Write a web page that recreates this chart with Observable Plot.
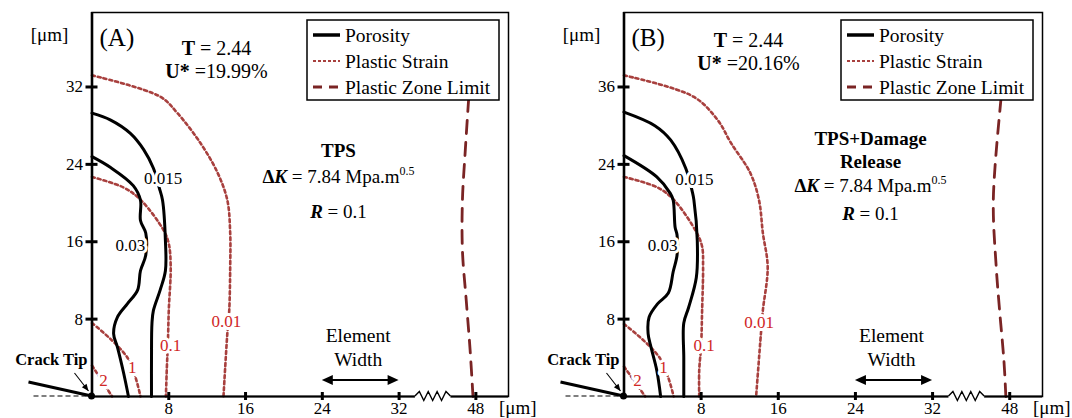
<!DOCTYPE html>
<html><head><meta charset="utf-8">
<script src="https://cdn.jsdelivr.net/npm/d3@7"></script>
<script src="https://cdn.jsdelivr.net/npm/@observablehq/plot@0.6"></script>
<style>
body{margin:0;background:#fff}
#row{display:flex;width:1072px;height:418px;overflow:hidden}
#row svg{overflow:visible}
</style>
</head><body><div id="row"></div>
<script>
// ---------- data ----------
const xTicks = [8, 16, 24, 32, 48];              // µm (axis broken between 32 and 48)
const yTicks = [8, 16, 24, 32];
const yTickLabelsA = ["8", "16", "24", "32"];
const yTickLabelsB = ["8", "16", "24", "36"];
const elementWidth = [24, 32];

// Panel A contours [x µm, y µm]
const A_por015 = [[0,29.3],[1.9,28.6],[4.0,27.2],[5.4,25.5],[6.4,23.6],[7.0,21.6],[7.35,20.3],[7.65,16.1],[7.65,13.0],[7.1,11.0],[6.4,8.9],[6.25,7.6],[6.2,4],[6.2,0]];
const A_por03  = [[0,24.8],[1.9,23.7],[4.3,21.8],[5.05,20.3],[5.05,18.2],[5.6,16.9],[5.6,14.6],[5.05,13.0],[4.75,11.0],[3.7,9.6],[2.65,8.2],[2.25,6.5],[2.65,5.1],[3.3,2.4],[3.8,0]];
const A_ps001  = [[0,33.2],[7.1,31.0],[8.9,29.3],[11.3,26.2],[13.1,23.1],[14.1,20.3],[14.4,16.9],[14.4,13.4],[14.3,8.9],[14.1,6.5],[13.7,0]];
const A_ps01   = [[0,22.7],[3.3,21.6],[5.1,20.3],[7.45,17.2],[8.0,15.8],[8.2,13.4],[8.0,8.9],[7.9,5.3],[7.8,3.0],[7.7,0]];
const A_ps1    = [[0,7.6],[3.7,4.0],[5.05,0]];
const A_ps2    = [[0,3.2],[2.1,0]];
const A_zone   = [[46.5,30.8],[45.8,25.5],[45.2,20.3],[45.2,15.1],[46.0,9.9],[46.8,4.8],[47.4,0]];
const A_porLabels = [["0.015",7.4,22.5],["0.03",4.0,15.6]];
const A_psLabels  = [["0.01",14.0,7.7],["0.1",8.2,5.3],["1",4.2,3.0],["2",1.2,1.65]];

// Panel B contours [x µm, y µm]
const B_por015 = [[0,29.4],[3.2,28.0],[4.85,26.5],[6.4,23.6],[7.1,21.1],[7.25,20.3],[7.6,16.1],[7.5,12.3],[6.7,9.2],[6.2,7.6],[6.2,4],[6.2,0]];
const B_por03  = [[0,24.9],[3.4,22.7],[4.8,21.0],[5.1,20.3],[5.3,17.5],[5.5,16.7],[5.5,14.6],[5.1,12.9],[4.6,10.7],[3.5,9.6],[2.6,8.2],[2.5,6.5],[2.8,5.1],[3.4,2.7],[3.8,0]];
const B_ps001  = [[0,33.2],[7.2,31.0],[9.7,28.6],[11.1,26.2],[13.1,23.1],[14.0,20.3],[14.4,16.9],[14.9,13.4],[14.4,8.9],[14.2,6.5],[13.7,0]];
const B_ps01   = [[0,22.7],[3.5,21.6],[5.2,20.3],[7.5,17.0],[8.1,15.5],[8.2,13.4],[8.1,8.9],[8.0,5.3],[7.8,2.7],[7.8,0]];
const B_ps1    = [[0,7.5],[3.7,4.0],[5.15,0]];
const B_ps2    = [[0,3.1],[2.2,0]];
const B_zone   = [[46.2,30.8],[46.1,30.3],[44.6,20.3],[45.2,13.4],[45.9,8.9],[46.8,3.7],[47.2,0]];
const B_porLabels = [["0.015",7.3,22.4],["0.03",4.0,15.6]];
const B_psLabels  = [["0.01",14.0,7.6],["0.1",8.3,5.3],["1",4.1,3.0],["2",1.4,1.6]];

const legendItems = ["Porosity", "Plastic Strain", "Plastic Zone Limit"];

// ---------- styles ----------
const FONT = "'Liberation Serif','Times New Roman',serif";
const STRAIN = "#a8403e";
const LABEL_RED = "#d02626";
const ZONE = "#7a2424";

// broken x axis: 48 is drawn where 40 would be
const brk = x => x <= 32 ? x : 32 + (x - 32) / 2;

function rich(g, x, y, segs, anchor, size) {
  const t = g.append("text").attr("x", x).attr("y", y)
    .attr("text-anchor", anchor || "middle").attr("font-size", size || 19);
  for (const s of segs) {
    const [str, o] = Array.isArray(s) ? s : [s, {}];
    const ts = t.append("tspan").text(str);
    if (o.b) ts.attr("font-weight", "bold");
    if (o.i) ts.attr("font-style", "italic");
    if (o.size) ts.attr("font-size", o.size);
    if (o.dy) ts.attr("dy", o.dy);
  }
  return t;
}

function annotations(cfg) {
  return (...args) => {
    const scales = args.find(a => a && typeof a === "object" && typeof a.x === "function");
    const dims = args.find(a => a && typeof a === "object" && "marginLeft" in a && "width" in a);
    const L = dims.marginLeft, R = dims.width - dims.marginRight, T = dims.marginTop, B = dims.height - dims.marginBottom;
    const sx = scales.x;
    const g = d3.create("svg:g").attr("font-family", FONT).attr("fill", "black");

    // axis break zigzag
    const xa = sx(33.7), xb = sx(37.4);
    g.append("line").attr("x1", xa).attr("x2", xb).attr("y1", B).attr("y2", B).attr("stroke", "white").attr("stroke-width", 4);
    const zz = d3.range(9).map(k => [xa + k * (xb - xa) / 8, k === 0 || k === 8 ? B : (k % 2 ? B - 4.5 : B + 4.5)]);
    g.append("path").attr("d", d3.line()(zz)).attr("fill", "none").attr("stroke", "black").attr("stroke-width", 1.4);

    // crack
    g.append("line").attr("x1", L - 58).attr("x2", L).attr("y1", B).attr("y2", B)
      .attr("stroke", "black").attr("stroke-width", 1.2).attr("stroke-dasharray", "5,3");
    g.append("line").attr("x1", L - 63).attr("y1", B - 14).attr("x2", L).attr("y2", B)
      .attr("stroke", "black").attr("stroke-width", 3);
    g.append("circle").attr("cx", L).attr("cy", B).attr("r", 3.5).attr("fill", "black");
    rich(g, L - 4, B - 31, [["Crack Tip", {b: 1}]], "end", 16.5);
    const ax1 = L - 17, ay1 = B - 23, ax2 = L - 3, ay2 = B - 5;
    g.append("line").attr("x1", ax1).attr("y1", ay1).attr("x2", ax2).attr("y2", ay2).attr("stroke", "black").attr("stroke-width", 1.1);
    {
      const ang = Math.atan2(ay2 - ay1, ax2 - ax1), len = 7, w = 3;
      const p = [[ax2, ay2],
        [ax2 - len * Math.cos(ang) + w * Math.sin(ang), ay2 - len * Math.sin(ang) - w * Math.cos(ang)],
        [ax2 - len * Math.cos(ang) - w * Math.sin(ang), ay2 - len * Math.sin(ang) + w * Math.cos(ang)]];
      g.append("path").attr("d", "M" + p.join("L") + "Z").attr("fill", "black");
    }

    // element width double arrow
    const ex1 = sx(elementWidth[0]), ex2 = sx(elementWidth[1]), ey = B - 16;
    g.append("line").attr("x1", ex1 + 4).attr("x2", ex2 - 4).attr("y1", ey).attr("y2", ey).attr("stroke", "black").attr("stroke-width", 1.8);
    g.append("path").attr("d", `M${ex1},${ey}L${ex1 + 11},${ey - 5}L${ex1 + 11},${ey + 5}Z`).attr("fill", "black");
    g.append("path").attr("d", `M${ex2},${ey}L${ex2 - 11},${ey - 5}L${ex2 - 11},${ey + 5}Z`).attr("fill", "black");
    const em = (ex1 + ex2) / 2 - 2;
    rich(g, em, B - 54, ["Element"], "middle", 19.5);
    rich(g, em, B - 30, ["Width"], "middle", 19.5);

    // unit labels
    rich(g, L - 42, T + 29, ["[μm]"], "middle", 19);
    rich(g, R - 9, B + 18, ["[μm]"], "start", 19);

    // panel tag and parameters
    rich(g, L + 8, T + 34, [cfg.tag], "start", 25);
    rich(g, L + 125, T + cfg.tY, [["T", {b: 1}], " = 2.44"], "middle", 20);
    rich(g, L + 125, T + cfg.tY + 23, [["U*", {b: 1}], " =" + cfg.U], "middle", 20);
    cfg.title.forEach((s, i) => rich(g, L + 247, T + cfg.titleY + i * 23, [[s, {b: 1}]], "middle", 19));
    rich(g, L + 247, T + cfg.dkY, [["Δ", {b: 1}], ["K", {b: 1, i: 1}], " = 7.84 Mpa.m", ["0.5", {size: 12, dy: -8}]], "middle", 19);
    rich(g, L + 247, T + cfg.rY, [["R", {b: 1, i: 1}], " = 0.1"], "middle", 19);

    // legend
    const lx = R - 201, ly = T + 8;
    g.append("rect").attr("x", lx).attr("y", ly).attr("width", 192).attr("height", 80)
      .attr("fill", "white").attr("stroke", "black").attr("stroke-width", 1.5);
    const styles = [
      {stroke: "black", w: 3.5, dash: null},
      {stroke: STRAIN, w: 2.2, dash: "3,2"},
      {stroke: ZONE, w: 3, dash: "9,7"}
    ];
    legendItems.forEach((name, i) => {
      const cy = ly + 15 + i * 26;
      const ln = g.append("line").attr("x1", lx + 6).attr("x2", lx + 33).attr("y1", cy).attr("y2", cy)
        .attr("stroke", styles[i].stroke).attr("stroke-width", styles[i].w);
      if (styles[i].dash) ln.attr("stroke-dasharray", styles[i].dash);
      rich(g, lx + 38, cy + 6.5, [name], "start", 19.5);
    });
    return g.node();
  };
}

function panel(cfg) {
  const line = (pts, st) => Plot.line(pts, {x: d => brk(d[0]), y: d => d[1], curve: "catmull-rom", ...st});
  const por = {stroke: "black", strokeWidth: 3};
  const ps = {stroke: STRAIN, strokeWidth: 2.6, strokeDasharray: "3,3"};
  return Plot.plot({
    width: cfg.width, height: 418,
    marginLeft: cfg.ml, marginRight: cfg.mr, marginTop: 12, marginBottom: 22,
    style: {fontFamily: FONT, background: "transparent", overflow: "visible"},
    x: {domain: [0, 43.4], axis: null},
    y: {domain: [0, 39.7], axis: null},
    marks: [
      line(cfg.ps001, ps), line(cfg.ps01, ps), line(cfg.ps1, ps), line(cfg.ps2, ps),
      line(cfg.zone, {stroke: ZONE, strokeWidth: 2.8, strokeDasharray: "13,9"}),
      line(cfg.por015, por), line(cfg.por03, por),
      Plot.text(cfg.porLabels, {x: d => d[1], y: d => d[2], text: d => d[0], fill: "black",
        stroke: "white", strokeWidth: 6, paintOrder: "stroke", fontSize: 17, fontFamily: FONT}),
      Plot.text(cfg.psLabels, {x: d => d[1], y: d => d[2], text: d => d[0], fill: LABEL_RED,
        stroke: "white", strokeWidth: 6, paintOrder: "stroke", fontSize: 17, fontFamily: FONT}),
      Plot.frame({stroke: "black", strokeWidth: 1.5}),
      Plot.ruleX([0], {stroke: "black", strokeWidth: 2.6}),
      Plot.ruleY([0], {stroke: "black", strokeWidth: 1.8}),
      Plot.ruleY(yTicks, {y: d => d, x1: 0, x2: 0, insetLeft: -6, insetRight: -6, stroke: "black", strokeWidth: 3}),
      Plot.ruleX(xTicks, {x: d => brk(d), y1: 0, y2: 0, insetTop: -4, insetBottom: -4, stroke: "black", strokeWidth: 3}),
      Plot.text(yTicks, {x: 0, y: d => d, text: (d, i) => cfg.yLabels[i], textAnchor: "end", dx: -9, fontSize: 17, fontFamily: FONT, fill: "black"}),
      Plot.text(xTicks, {x: d => brk(d), y: 0, text: d => String(d), lineAnchor: "top", dy: 5, fontSize: 17, fontFamily: FONT, fill: "black"}),
      annotations(cfg)
    ]
  });
}

const row = document.getElementById("row");
row.appendChild(panel({
  width: 540, ml: 91.5, mr: 32, tag: "(A)", U: "19.99%", tY: 43, title: ["TPS"], titleY: 145, dkY: 171, rY: 206,
  yLabels: yTickLabelsA, por015: A_por015, por03: A_por03, ps001: A_ps001, ps01: A_ps01, ps1: A_ps1, ps2: A_ps2,
  zone: A_zone, porLabels: A_porLabels, psLabels: A_psLabels
}));
row.appendChild(panel({
  width: 532, ml: 83.5, mr: 30, tag: "(B)", U: "20.16%", tY: 35, title: ["TPS+Damage", "Release"], titleY: 133, dkY: 180, rY: 208,
  yLabels: yTickLabelsB, por015: B_por015, por03: B_por03, ps001: B_ps001, ps01: B_ps01, ps1: B_ps1, ps2: B_ps2,
  zone: B_zone, porLabels: B_porLabels, psLabels: B_psLabels
}));
</script>
</body></html>
